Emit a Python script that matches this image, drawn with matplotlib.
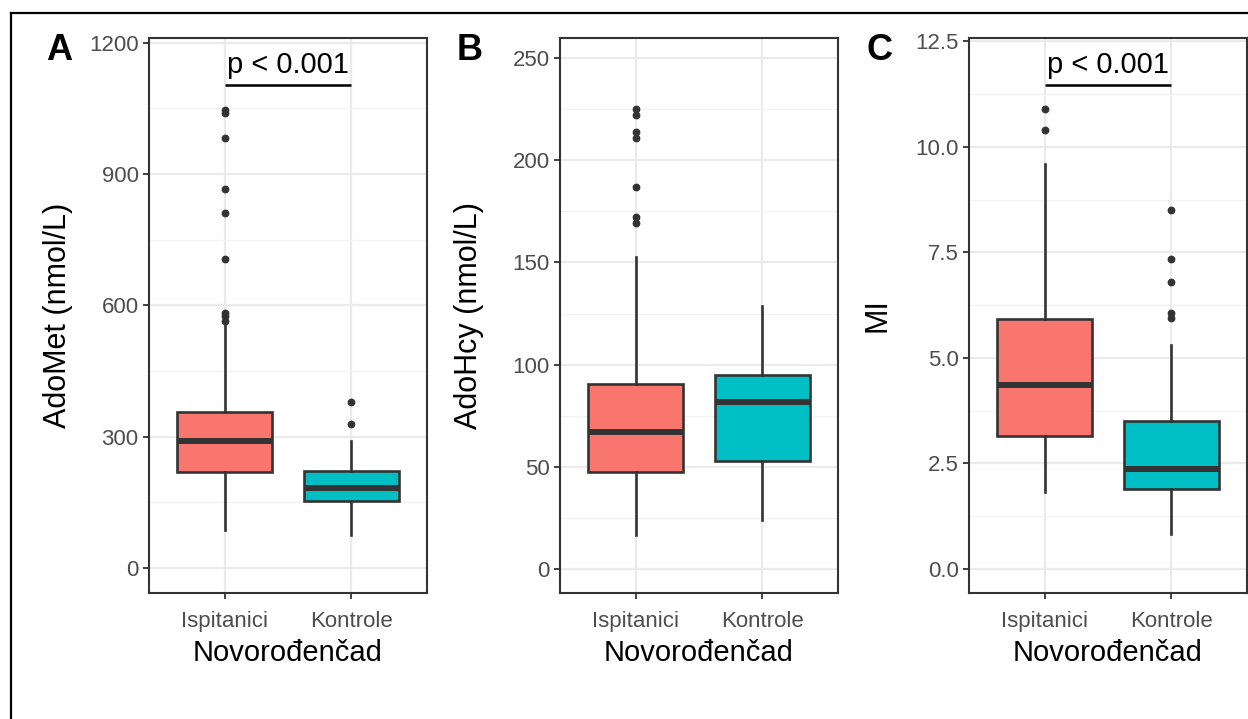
import matplotlib
matplotlib.use("Agg")
import matplotlib.pyplot as plt
from matplotlib.lines import Line2D
from matplotlib.ticker import MultipleLocator

plt.rcParams['font.family'] = ['Liberation Sans', 'DejaVu Sans']

groups = ["Ispitanici", "Kontrole"]
colors = ["#F8766D", "#00BFC4"]

# Panel A: AdoMet (nmol/L)
a_whislo = [88, 75]
a_q1 = [219, 153]
a_med = [290, 183]
a_q3 = [357, 222]
a_whishi = [555, 290]
a_fliers = [[565, 576, 583, 705, 812, 866, 983, 1040, 1047], [328, 379]]

# Panel B: AdoHcy (nmol/L)
b_whislo = [16.5, 24]
b_q1 = [47.5, 53]
b_med = [67, 81.5]
b_q3 = [90.5, 95]
b_whishi = [152.5, 128.5]
b_fliers = [[169.5, 172, 187, 211, 214, 222, 225], []]

# Panel C: MI
c_whislo = [1.82, 0.82]
c_q1 = [3.15, 1.9]
c_med = [4.35, 2.36]
c_q3 = [5.92, 3.5]
c_whishi = [9.6, 5.31]
c_fliers = [[10.4, 10.9], [5.95, 6.07, 6.8, 7.35, 8.5]]

panels = [
    dict(letter="A", ylabel="AdoMet (nmol/L)", whislo=a_whislo, q1=a_q1, med=a_med, q3=a_q3,
         whishi=a_whishi, fliers=a_fliers, ylim=(-57, 1211), major=300, minor=150,
         fmt="{:.0f}", pval="p < 0.001", pbar=1104),
    dict(letter="B", ylabel="AdoHcy (nmol/L)", whislo=b_whislo, q1=b_q1, med=b_med, q3=b_q3,
         whishi=b_whishi, fliers=b_fliers, ylim=(-11.7, 259.8), major=50, minor=25,
         fmt="{:.0f}", pval=None, pbar=None),
    dict(letter="C", ylabel="MI", whislo=c_whislo, q1=c_q1, med=c_med, q3=c_q3,
         whishi=c_whishi, fliers=c_fliers, ylim=(-0.57, 12.58), major=2.5, minor=1.25,
         fmt="{:.1f}", pval="p < 0.001", pbar=11.47),
]

W, H = 1248, 719
fig = plt.figure(figsize=(W / 100, H / 100), dpi=100)

lefts = [149, 560, 969]
ax_w = 278
ax_top, ax_bot = 38, 593

dark = "#333333"
for i, p in enumerate(panels):
    ax = fig.add_axes([lefts[i] / W, 1 - ax_bot / H, ax_w / W, (ax_bot - ax_top) / H])
    stats = []
    for j, g in enumerate(groups):
        stats.append(dict(label=g, whislo=p["whislo"][j], q1=p["q1"][j], med=p["med"][j],
                          q3=p["q3"][j], whishi=p["whishi"][j], fliers=p["fliers"][j]))
    bp = ax.bxp(stats, positions=[1, 2], widths=0.75, patch_artist=True, showcaps=False,
                boxprops=dict(edgecolor=dark, linewidth=1.9),
                medianprops=dict(color=dark, linewidth=4.3, solid_capstyle="butt"),
                whiskerprops=dict(color=dark, linewidth=1.9),
                flierprops=dict(marker="o", markersize=4.6, markerfacecolor=dark,
                                markeredgecolor=dark, linestyle="none"),
                zorder=3)
    for patch, c in zip(bp["boxes"], colors):
        patch.set_facecolor(c)
    ax.set_xlim(0.4, 2.6)
    ax.set_ylim(*p["ylim"])
    ax.yaxis.set_major_locator(MultipleLocator(p["major"]))
    ax.yaxis.set_minor_locator(MultipleLocator(p["minor"]))
    ticks = [t for t in ax.get_yticks() if p["ylim"][0] <= t <= p["ylim"][1]]
    ax.set_yticks(ticks)
    ax.set_yticklabels([p["fmt"].format(t) for t in ticks])
    ax.set_xticks([1, 2])
    ax.set_xticklabels(groups)
    ax.grid(True, which="major", color="#EBEBEB", linewidth=1.6, zorder=0)
    ax.grid(True, which="minor", axis="y", color="#F3F3F3", linewidth=0.9, zorder=0)
    ax.set_axisbelow(True)
    ax.tick_params(axis="both", which="major", colors=dark, length=4.5, width=1.3,
                   labelsize=16, labelcolor="#4D4D4D", pad=3)
    ax.tick_params(axis="x", which="major", pad=8.5)
    ax.tick_params(axis="y", which="minor", length=0)
    for s in ax.spines.values():
        s.set_color(dark)
        s.set_linewidth(1.5)
    ax.set_xlabel("Novorođenčad", fontsize=21, color="black", labelpad=5)
    ax.set_ylabel(p["ylabel"], fontsize=22, color="black", va="center")
    ax.yaxis.set_label_coords(-91 / ax_w, 0.5)
    if p["pval"]:
        ax.plot([1, 2], [p["pbar"], p["pbar"]], color="black", linewidth=1.8,
                solid_capstyle="butt", zorder=4)
        ax.text(1.5, p["pbar"] + (p["ylim"][1] - p["ylim"][0]) * 0.01, p["pval"],
                ha="center", va="bottom", fontsize=21, color="black", zorder=4)
    fig.text((lefts[i] - 90) / W, 1 - 50 / H, p["letter"], fontsize=26, fontweight="bold",
             ha="center", va="center")

# outer frame
fig.add_artist(Line2D([11 / W, 11 / W], [1 - 12.5 / H, 0], color="black", linewidth=1.6,
                      transform=fig.transFigure))
fig.add_artist(Line2D([11 / W, 1], [1 - 12.5 / H, 1 - 12.5 / H], color="black", linewidth=1.6,
                      transform=fig.transFigure))

fig.savefig("out.png", dpi=100)
